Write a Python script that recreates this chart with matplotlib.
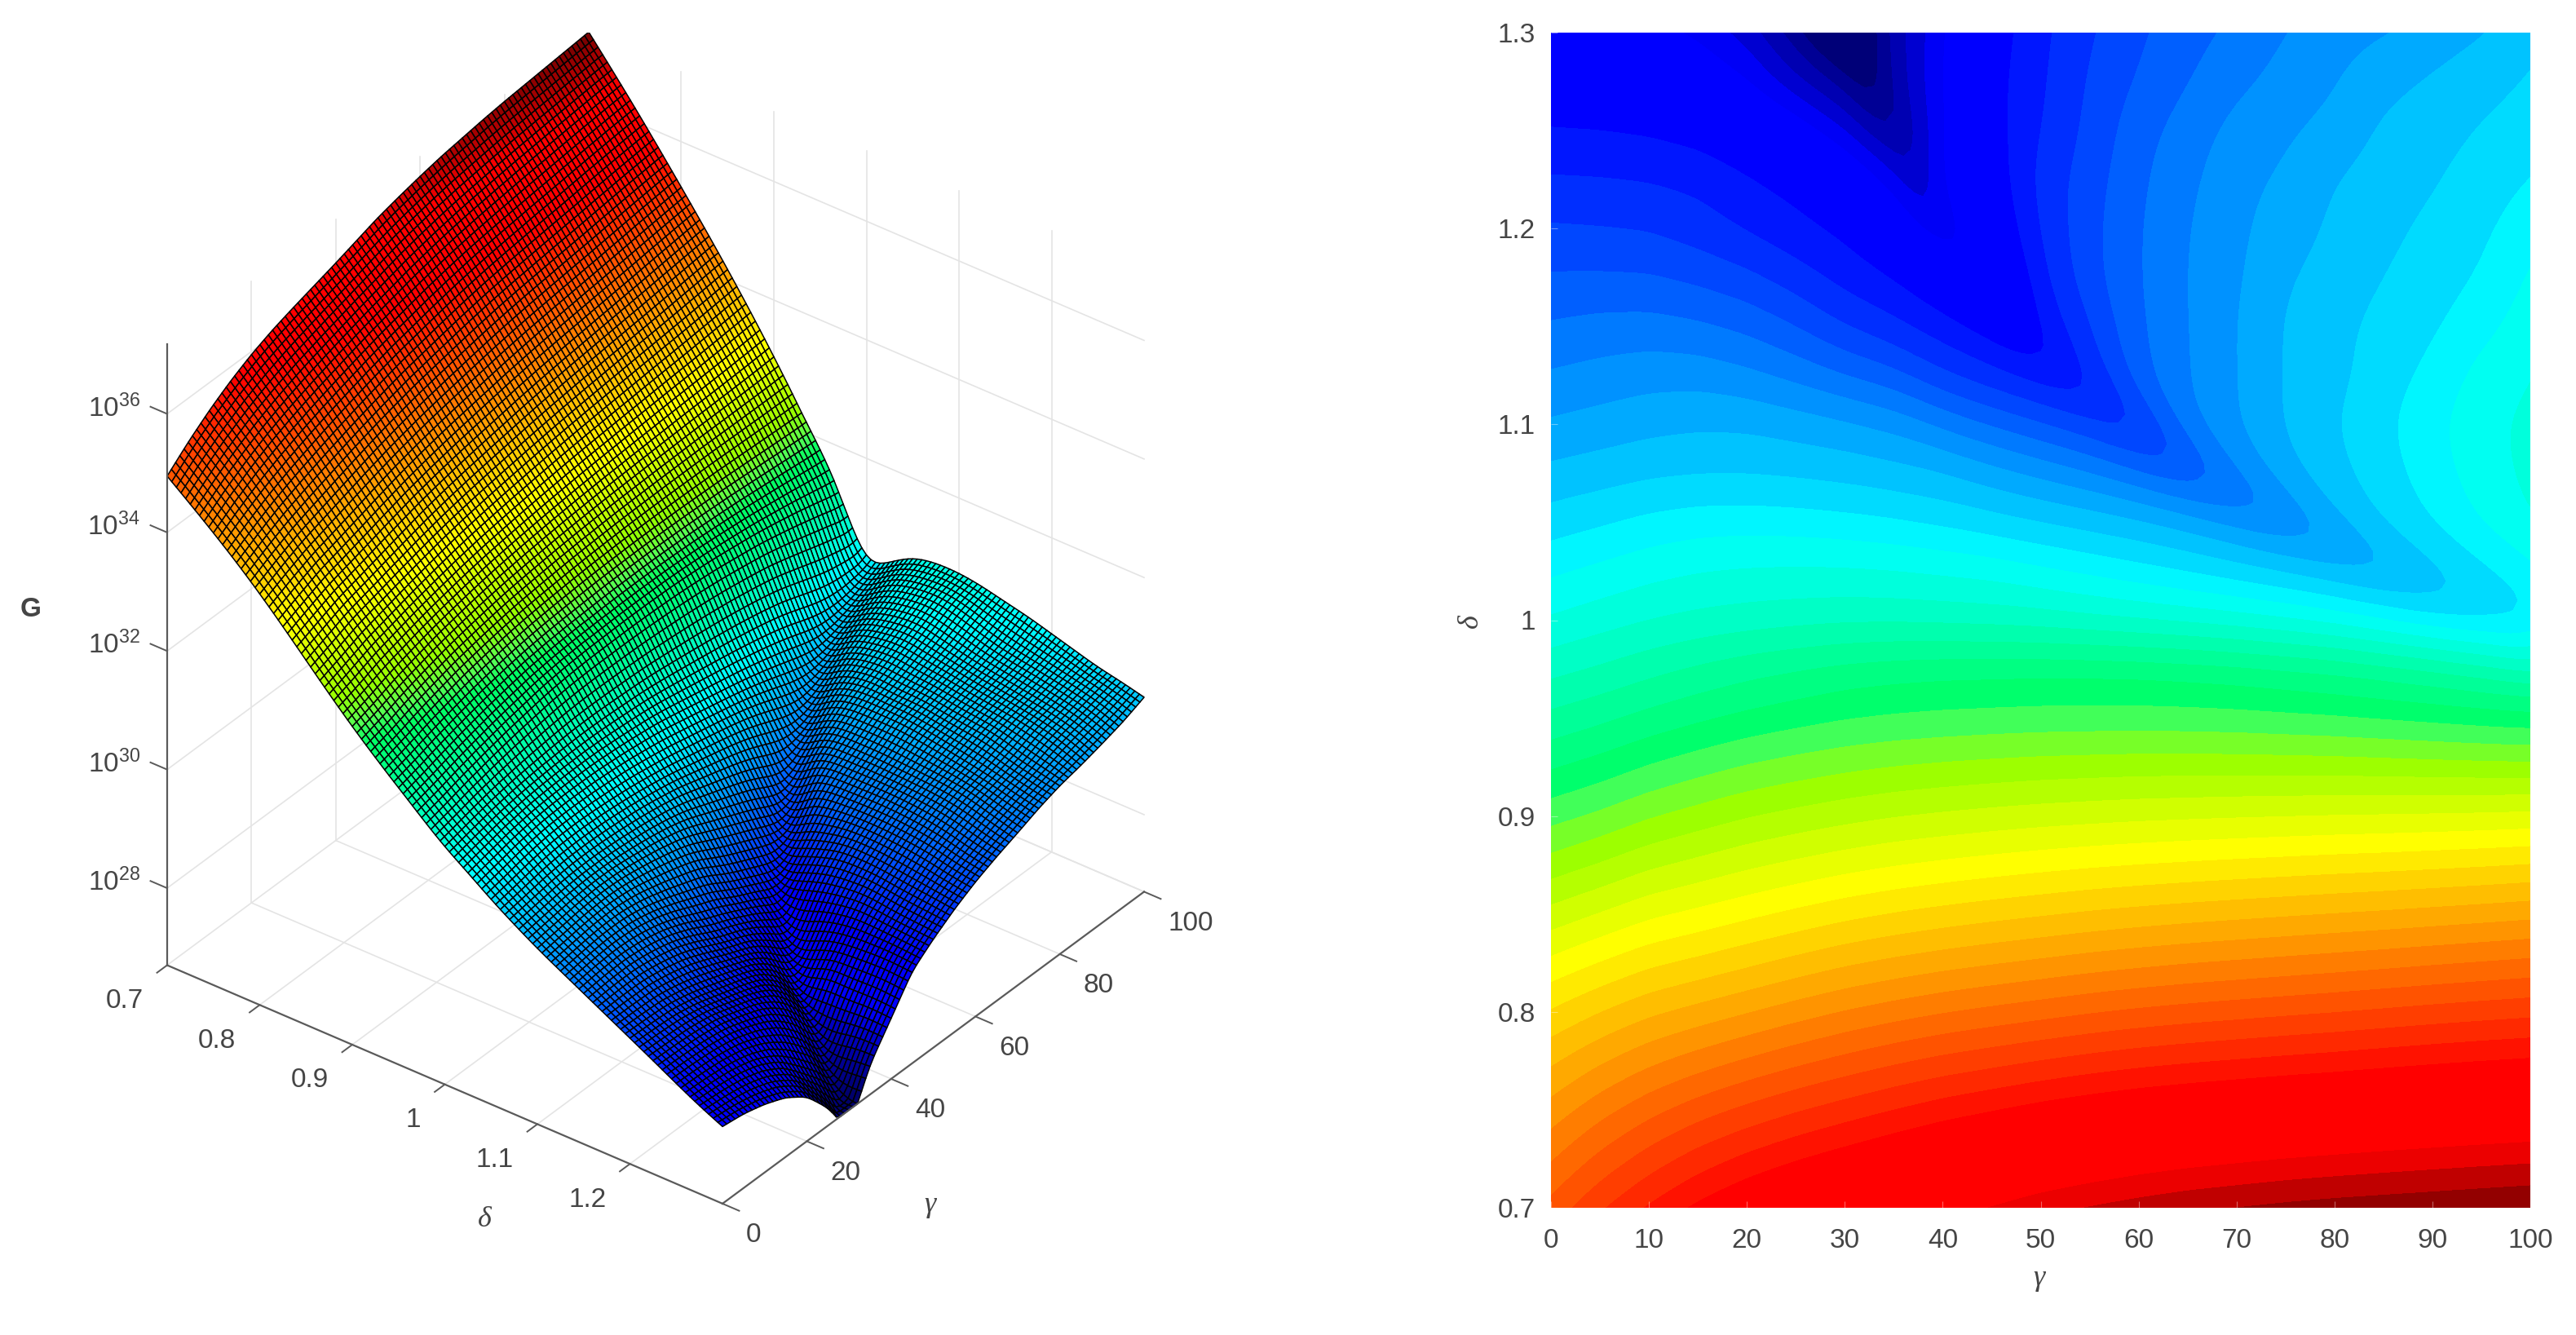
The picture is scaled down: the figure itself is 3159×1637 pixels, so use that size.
import numpy as np
import matplotlib
matplotlib.use('Agg')
import matplotlib.pyplot as plt
from matplotlib.colors import LinearSegmentedColormap, Normalize
from mpl_toolkits.mplot3d import proj3d

plt.rcParams['font.family'] = ['Liberation Sans', 'DejaVu Sans']
plt.rcParams['mathtext.default'] = 'regular'

W, H = 3159, 1637
text_col = '#454545'
grid_col = '#e4e4e4'
axis_col = '#5a5a5a'

# log10(G): rows are delta, columns are gamma
gamma_vals = [0, 5, 10, 15, 20, 25, 30, 35, 40, 45, 50, 55, 60, 65, 70, 75, 80, 85, 90, 95, 100]
delta_vals = [0.70, 0.75, 0.80, 0.85, 0.90, 0.95, 0.975, 1.0, 1.025, 1.05, 1.075, 1.10, 1.125, 1.15, 1.175, 1.20, 1.225, 1.25, 1.275, 1.30]
log_g = [
    [34.95, 35.26, 35.53, 35.76, 35.95, 36.10, 36.22, 36.33, 36.44, 36.56, 36.68, 36.77, 36.85, 36.92, 36.97, 37.02, 37.06, 37.09, 37.12, 37.15, 37.18],
    [34.35, 34.62, 34.85, 35.05, 35.20, 35.33, 35.45, 35.58, 35.70, 35.78, 35.87, 35.94, 36.00, 36.04, 36.08, 36.12, 36.15, 36.19, 36.22, 36.25, 36.27],
    [33.68, 33.84, 33.98, 34.08, 34.20, 34.33, 34.45, 34.54, 34.62, 34.69, 34.75, 34.82, 34.88, 34.93, 34.97, 35.01, 35.05, 35.10, 35.15, 35.19, 35.23],
    [32.85, 33.00, 33.15, 33.23, 33.32, 33.42, 33.52, 33.60, 33.67, 33.73, 33.79, 33.85, 33.90, 33.95, 33.99, 34.03, 34.07, 34.10, 34.14, 34.18, 34.22],
    [32.02, 32.14, 32.30, 32.43, 32.55, 32.62, 32.68, 32.74, 32.78, 32.82, 32.85, 32.87, 32.89, 32.90, 32.92, 32.94, 32.96, 32.98, 33.00, 33.03, 33.07],
    [31.37, 31.47, 31.58, 31.68, 31.77, 31.85, 31.92, 31.96, 31.99, 32.01, 32.03, 32.04, 32.05, 32.05, 32.04, 32.02, 32.00, 31.97, 31.94, 31.90, 31.86],
    [31.03, 31.13, 31.25, 31.36, 31.46, 31.54, 31.62, 31.67, 31.70, 31.71, 31.72, 31.72, 31.71, 31.68, 31.64, 31.58, 31.52, 31.44, 31.35, 31.23, 31.10],
    [30.70, 30.79, 30.87, 30.93, 30.97, 31.00, 31.02, 31.02, 31.00, 30.98, 30.95, 30.90, 30.85, 30.80, 30.74, 30.67, 30.58, 30.43, 30.27, 30.15, 30.12],
    [30.44, 30.53, 30.62, 30.68, 30.71, 30.72, 30.72, 30.70, 30.66, 30.62, 30.52, 30.42, 30.32, 30.23, 30.12, 30.03, 29.93, 29.75, 29.98, 30.20, 30.42],
    [30.15, 30.23, 30.32, 30.38, 30.39, 30.37, 30.33, 30.28, 30.20, 30.12, 30.05, 29.98, 29.90, 29.78, 29.58, 29.38, 29.80, 30.10, 30.28, 30.50, 30.68],
    [29.90, 29.95, 30.00, 30.02, 30.02, 30.00, 29.97, 29.92, 29.87, 29.72, 29.58, 29.43, 29.22, 29.07, 29.42, 29.78, 29.98, 30.17, 30.37, 30.58, 30.74],
    [29.66, 29.72, 29.78, 29.82, 29.82, 29.76, 29.69, 29.58, 29.38, 29.20, 29.02, 28.85, 28.72, 29.40, 29.62, 29.87, 30.05, 30.23, 30.43, 30.63, 30.74],
    [29.45, 29.50, 29.55, 29.55, 29.47, 29.35, 29.20, 29.07, 28.80, 28.62, 28.47, 28.62, 29.15, 29.42, 29.62, 29.87, 29.98, 30.15, 30.32, 30.55, 30.68],
    [29.24, 29.29, 29.30, 29.25, 29.16, 29.00, 28.78, 28.62, 28.47, 28.30, 28.42, 28.77, 29.18, 29.42, 29.63, 29.87, 30.00, 30.12, 30.23, 30.40, 30.58],
    [29.03, 29.03, 29.02, 28.95, 28.85, 28.68, 28.50, 28.38, 28.12, 27.98, 28.53, 28.94, 29.20, 29.43, 29.60, 29.82, 29.93, 30.05, 30.15, 30.28, 30.50],
    [28.82, 28.80, 28.77, 28.67, 28.54, 28.43, 28.33, 28.02, 27.72, 28.12, 28.60, 28.94, 29.20, 29.42, 29.58, 29.75, 29.88, 30.00, 30.10, 30.22, 30.38],
    [28.61, 28.60, 28.58, 28.54, 28.42, 28.30, 28.08, 27.68, 27.82, 28.22, 28.66, 28.91, 29.17, 29.38, 29.56, 29.67, 29.85, 29.95, 30.03, 30.15, 30.27],
    [28.39, 28.38, 28.35, 28.28, 28.15, 27.95, 27.55, 27.25, 27.72, 28.27, 28.58, 28.85, 29.13, 29.32, 29.50, 29.60, 29.70, 29.88, 29.97, 30.07, 30.15],
    [28.18, 28.15, 28.10, 27.98, 27.75, 27.35, 27.05, 27.20, 27.75, 28.30, 28.55, 28.82, 29.02, 29.20, 29.37, 29.50, 29.62, 29.78, 29.88, 29.98, 30.08],
    [28.00, 27.95, 27.85, 27.70, 27.45, 27.00, 26.72, 27.20, 27.72, 28.25, 28.53, 28.77, 28.97, 29.13, 29.27, 29.42, 29.54, 29.62, 29.72, 29.83, 29.98],
]
# where the valley floor sits on each delta row (100 = the valley has left the plot)
valley_gamma = [100, 100, 100, 100, 100, 100, 100, 98, 85.5, 75, 66, 59.5, 53, 47.5, 44, 40, 37.3, 35, 32.5, 30]
valley_z = [37.18, 36.27, 35.23, 34.22, 33.07, 31.86, 31.10, 30.02, 29.58, 29.22, 28.88, 28.55, 28.28, 28.02, 27.72, 27.50, 27.25, 27.00, 26.65, 26.35]

gamma_ticks_3d = [0, 20, 40, 60, 80, 100]
delta_ticks_3d = [0.7, 0.8, 0.9, 1.0, 1.1, 1.2]
delta_labels_3d = ['0.7', '0.8', '0.9', '1', '1.1', '1.2']
z_ticks = [28, 30, 32, 34, 36]
gamma_ticks_2d = [0, 10, 20, 30, 40, 50, 60, 70, 80, 90, 100]
delta_ticks_2d = [0.7, 0.8, 0.9, 1.0, 1.1, 1.2, 1.3]
delta_labels_2d = ['0.7', '0.8', '0.9', '1', '1.1', '1.2', '1.3']

z_lo, z_hi = 26.7, 37.18

# colour stops: (log10 G, rgb 0-255)
cmap_z = [26.7, 27.3, 27.7, 28.3, 30.45, 31.9, 32.1, 32.4, 33.3, 35.8, 36.58, 37.18]
cmap_rgb = [(0, 0, 105), (0, 0, 190), (0, 0, 255), (0, 0, 255), (0, 255, 255), (0, 255, 100),
            (85, 255, 85), (150, 255, 0), (255, 255, 0), (255, 0, 0), (255, 0, 0), (125, 0, 0)]
norm = Normalize(z_lo, z_hi)
cmap = LinearSegmentedColormap.from_list(
    'gcol', [(float(norm(z)), tuple(v / 255 for v in c)) for z, c in zip(cmap_z, cmap_rgb)], N=512)


def row_at(i, g):
    # one table row as a curve over gamma, with its valley point put in
    gv = valley_gamma[i]
    gs = np.array(gamma_vals, dtype=float)
    zs = np.array(log_g[i])
    keep = np.abs(gs - gv) > 1.0
    gs2 = np.append(gs[keep], gv)
    zs2 = np.append(zs[keep], valley_z[i])
    order = np.argsort(gs2)
    return np.interp(g, gs2[order], zs2[order])


def refine(g_fine, d_fine):
    # resample the table for the mesh, sliding along the valley between rows
    # so the valley stays one narrow line instead of a row of bumps
    out = np.zeros((len(d_fine), len(g_fine)))
    d_rows = np.array(delta_vals)
    for k, d in enumerate(d_fine):
        j = min(np.searchsorted(d_rows, d, side='right') - 1, len(d_rows) - 2)
        t = (d - d_rows[j]) / (d_rows[j + 1] - d_rows[j])
        gv = (1 - t) * valley_gamma[j] + t * valley_gamma[j + 1]
        for jj, wt in ((j, 1 - t), (j + 1, t)):
            gvj = valley_gamma[jj]
            if gv >= 100:
                g_row = g_fine * gvj / 100
            else:
                g_row = np.where(g_fine <= gv, g_fine * gvj / gv,
                                 gvj + (g_fine - gv) * (100 - gvj) / (100 - gv))
            out[k] += wt * row_at(jj, g_row)
    return out


def soften(z, sigma, axis):
    # light gaussian pass to take out my reading noise
    n = int(3 * sigma) + 1
    kern = np.exp(-0.5 * (np.arange(-n, n + 1) / sigma) ** 2)
    kern /= kern.sum()
    pad = [(0, 0), (0, 0)]
    pad[axis] = (n, n)
    zp = np.pad(z, pad, mode='reflect', reflect_type='odd')
    return np.apply_along_axis(lambda v: np.convolve(v, kern, mode='valid'), axis, zp)


g_fine = np.linspace(0, 100, 101)
d_fine = np.linspace(0.7, 1.3, 121)
G_f, D_f = np.meshgrid(g_fine, d_fine)
Z_f = refine(g_fine, d_fine)
# the rows below delta 0.95 are further apart, so they get a wider pass
blend = np.clip((0.97 - D_f) / 0.04, 0, 1)
Z_f = blend * soften(Z_f, 7.0, 0) + (1 - blend) * soften(Z_f, 2.5, 0)
Z_f = soften(Z_f, 1.0, 1)
Z_f = np.clip(Z_f, z_lo, z_hi)

fig = plt.figure(figsize=(W / 200, H / 200), dpi=200, facecolor='white')

# ---- left: surface ----
ax = fig.add_axes([0.0, 0.0, H / W, 1.0], projection='3d', proj_type='ortho')
ax.computed_zorder = False
ax.view_init(elev=34.3, azim=-52.7)
ax.set_box_aspect((856, 853, 922))
ax.set_xlim(0.7, 1.3, view_margin=0)
ax.set_ylim(0, 100, view_margin=0)
ax.set_zlim(z_lo, z_hi, view_margin=0)
ax.set_axis_off()


def to_px(d, g, z):
    xp, yp, _ = proj3d.proj_transform(d, g, z, ax.get_proj())
    return ax.transData.transform((xp, yp))


# fit the box so the floor corners land where they are in the reference
target_a = np.array([205.0, H - 1184.0])
target_c = np.array([1403.0, H - 1093.0])
side = float(H)
left, bottom = 0.0, 0.0
for i in range(3):
    ax.set_position([left / W, bottom / H, side / W, side / H])
    fig.canvas.draw()
    pa = to_px(0.7, 0, z_lo)
    pc = to_px(1.3, 100, z_lo)
    ratio = np.linalg.norm(target_c - target_a) / np.linalg.norm(pc - pa)
    mid_now = (pa + pc) / 2
    rel = (mid_now - np.array([left, bottom])) / side
    side = side * ratio
    left, bottom = (target_a + target_c) / 2 - rel * side
ax.set_position([left / W, bottom / H, side / W, side / H])
fig.canvas.draw()

# grid behind the surface
for g in gamma_ticks_3d[1:]:
    ax.plot([0.7, 1.3], [g, g], [z_lo, z_lo], color=grid_col, lw=0.6, zorder=1)
    ax.plot([0.7, 0.7], [g, g], [z_lo, z_hi], color=grid_col, lw=0.6, zorder=1)
for d in delta_ticks_3d[1:]:
    ax.plot([d, d], [0, 100], [z_lo, z_lo], color=grid_col, lw=0.6, zorder=1)
    ax.plot([d, d], [100, 100], [z_lo, z_hi], color=grid_col, lw=0.6, zorder=1)
ax.plot([0.7, 0.7], [0, 100], [z_lo, z_lo], color=grid_col, lw=0.6, zorder=1)
ax.plot([0.7, 1.3], [100, 100], [z_lo, z_lo], color=grid_col, lw=0.6, zorder=1)
ax.plot([0.7, 0.7], [100, 100], [z_lo, z_hi], color=grid_col, lw=0.6, zorder=1)
for z in z_ticks:
    ax.plot([0.7, 0.7], [0, 100], [z, z], color=grid_col, lw=0.6, zorder=1)
    ax.plot([0.7, 1.3], [100, 100], [z, z], color=grid_col, lw=0.6, zorder=1)

ax.plot_surface(D_f, G_f, Z_f, rstride=1, cstride=1, facecolors=cmap(norm(Z_f)), edgecolor='black',
                linewidth=0.55, antialiased=True, shade=False, zorder=2)

# axis lines and ticks
ax.plot([0.7, 1.3], [0, 0], [z_lo, z_lo], color=axis_col, lw=0.8, zorder=3)
ax.plot([1.3, 1.3], [0, 100], [z_lo, z_lo], color=axis_col, lw=0.8, zorder=3)
ax.plot([0.7, 0.7], [0, 0], [z_lo, z_hi], color=axis_col, lw=0.8, zorder=3)
for d, lab in zip(delta_ticks_3d, delta_labels_3d):
    ax.plot([d, d], [0, -2.4], [z_lo, z_lo], color=axis_col, lw=0.7, zorder=3)
    xp, yp, _ = proj3d.proj_transform(d, 0, z_lo, ax.get_proj())
    ax.annotate(lab, (xp, yp), xytext=(-29, -44), textcoords='offset pixels', ha='right', va='center',
                fontsize=12, color=text_col, annotation_clip=False)
for g in gamma_ticks_3d:
    ax.plot([1.3, 1.318], [g, g], [z_lo, z_lo], color=axis_col, lw=0.7, zorder=3)
    xp, yp, _ = proj3d.proj_transform(1.3, g, z_lo, ax.get_proj())
    ax.annotate(str(g), (xp, yp), xytext=(29, -39), textcoords='offset pixels', ha='left', va='center',
                fontsize=12, color=text_col, annotation_clip=False)
for z in z_ticks:
    ax.plot([0.7, 0.682], [0, 0], [z, z], color=axis_col, lw=0.7, zorder=3)
    xp, yp, _ = proj3d.proj_transform(0.7, 0, z, ax.get_proj())
    ax.annotate('$10^{%d}$' % z, (xp, yp), xytext=(-33, 7), textcoords='offset pixels', ha='right', va='center',
                fontsize=12, color=text_col, annotation_clip=False)

greek = ['Liberation Serif', 'DejaVu Serif']
fig.text(594 / W, 1 - 1495 / H, '\u03b4', family=greek, style='italic', fontsize=13, color=text_col, ha='center', va='center')
fig.text(1140 / W, 1 - 1477 / H, '\u03b3', family=greek, style='italic', fontsize=13, color=text_col, ha='center', va='center')
fig.text(38 / W, 1 - 747 / H, 'G', fontsize=12, fontweight='bold', color=text_col, ha='center', va='center')

# ---- right: filled contours ----
ax2 = fig.add_axes([1902 / W, 1 - 1481 / H, 1201 / W, 1441 / H])
ax2.contourf(G_f, D_f, Z_f, levels=np.linspace(z_lo, z_hi, 51), cmap=cmap, norm=norm)
ax2.set_xlim(0, 100)
ax2.set_ylim(0.7, 1.3)
ax2.set_xticks(gamma_ticks_2d)
ax2.set_yticks(delta_ticks_2d)
ax2.set_yticklabels(delta_labels_2d)
ax2.tick_params(direction='in', length=3, width=0.4, color=(1, 1, 1, 0.4), labelsize=12, labelcolor=text_col)
ax2.tick_params(axis='x', pad=9)
ax2.tick_params(axis='y', pad=7)
for s in ax2.spines.values():
    s.set_visible(False)
fig.text(2500 / W, 1 - 1568 / H, '\u03b3', family=greek, style='italic', fontsize=13, color=text_col, ha='center', va='center')
fig.text(1803 / W, 1 - 762 / H, '\u03b4', family=greek, style='italic', fontsize=13, color=text_col, ha='center', va='center', rotation=90)

fig.savefig('out.png', dpi=200, facecolor='white')
